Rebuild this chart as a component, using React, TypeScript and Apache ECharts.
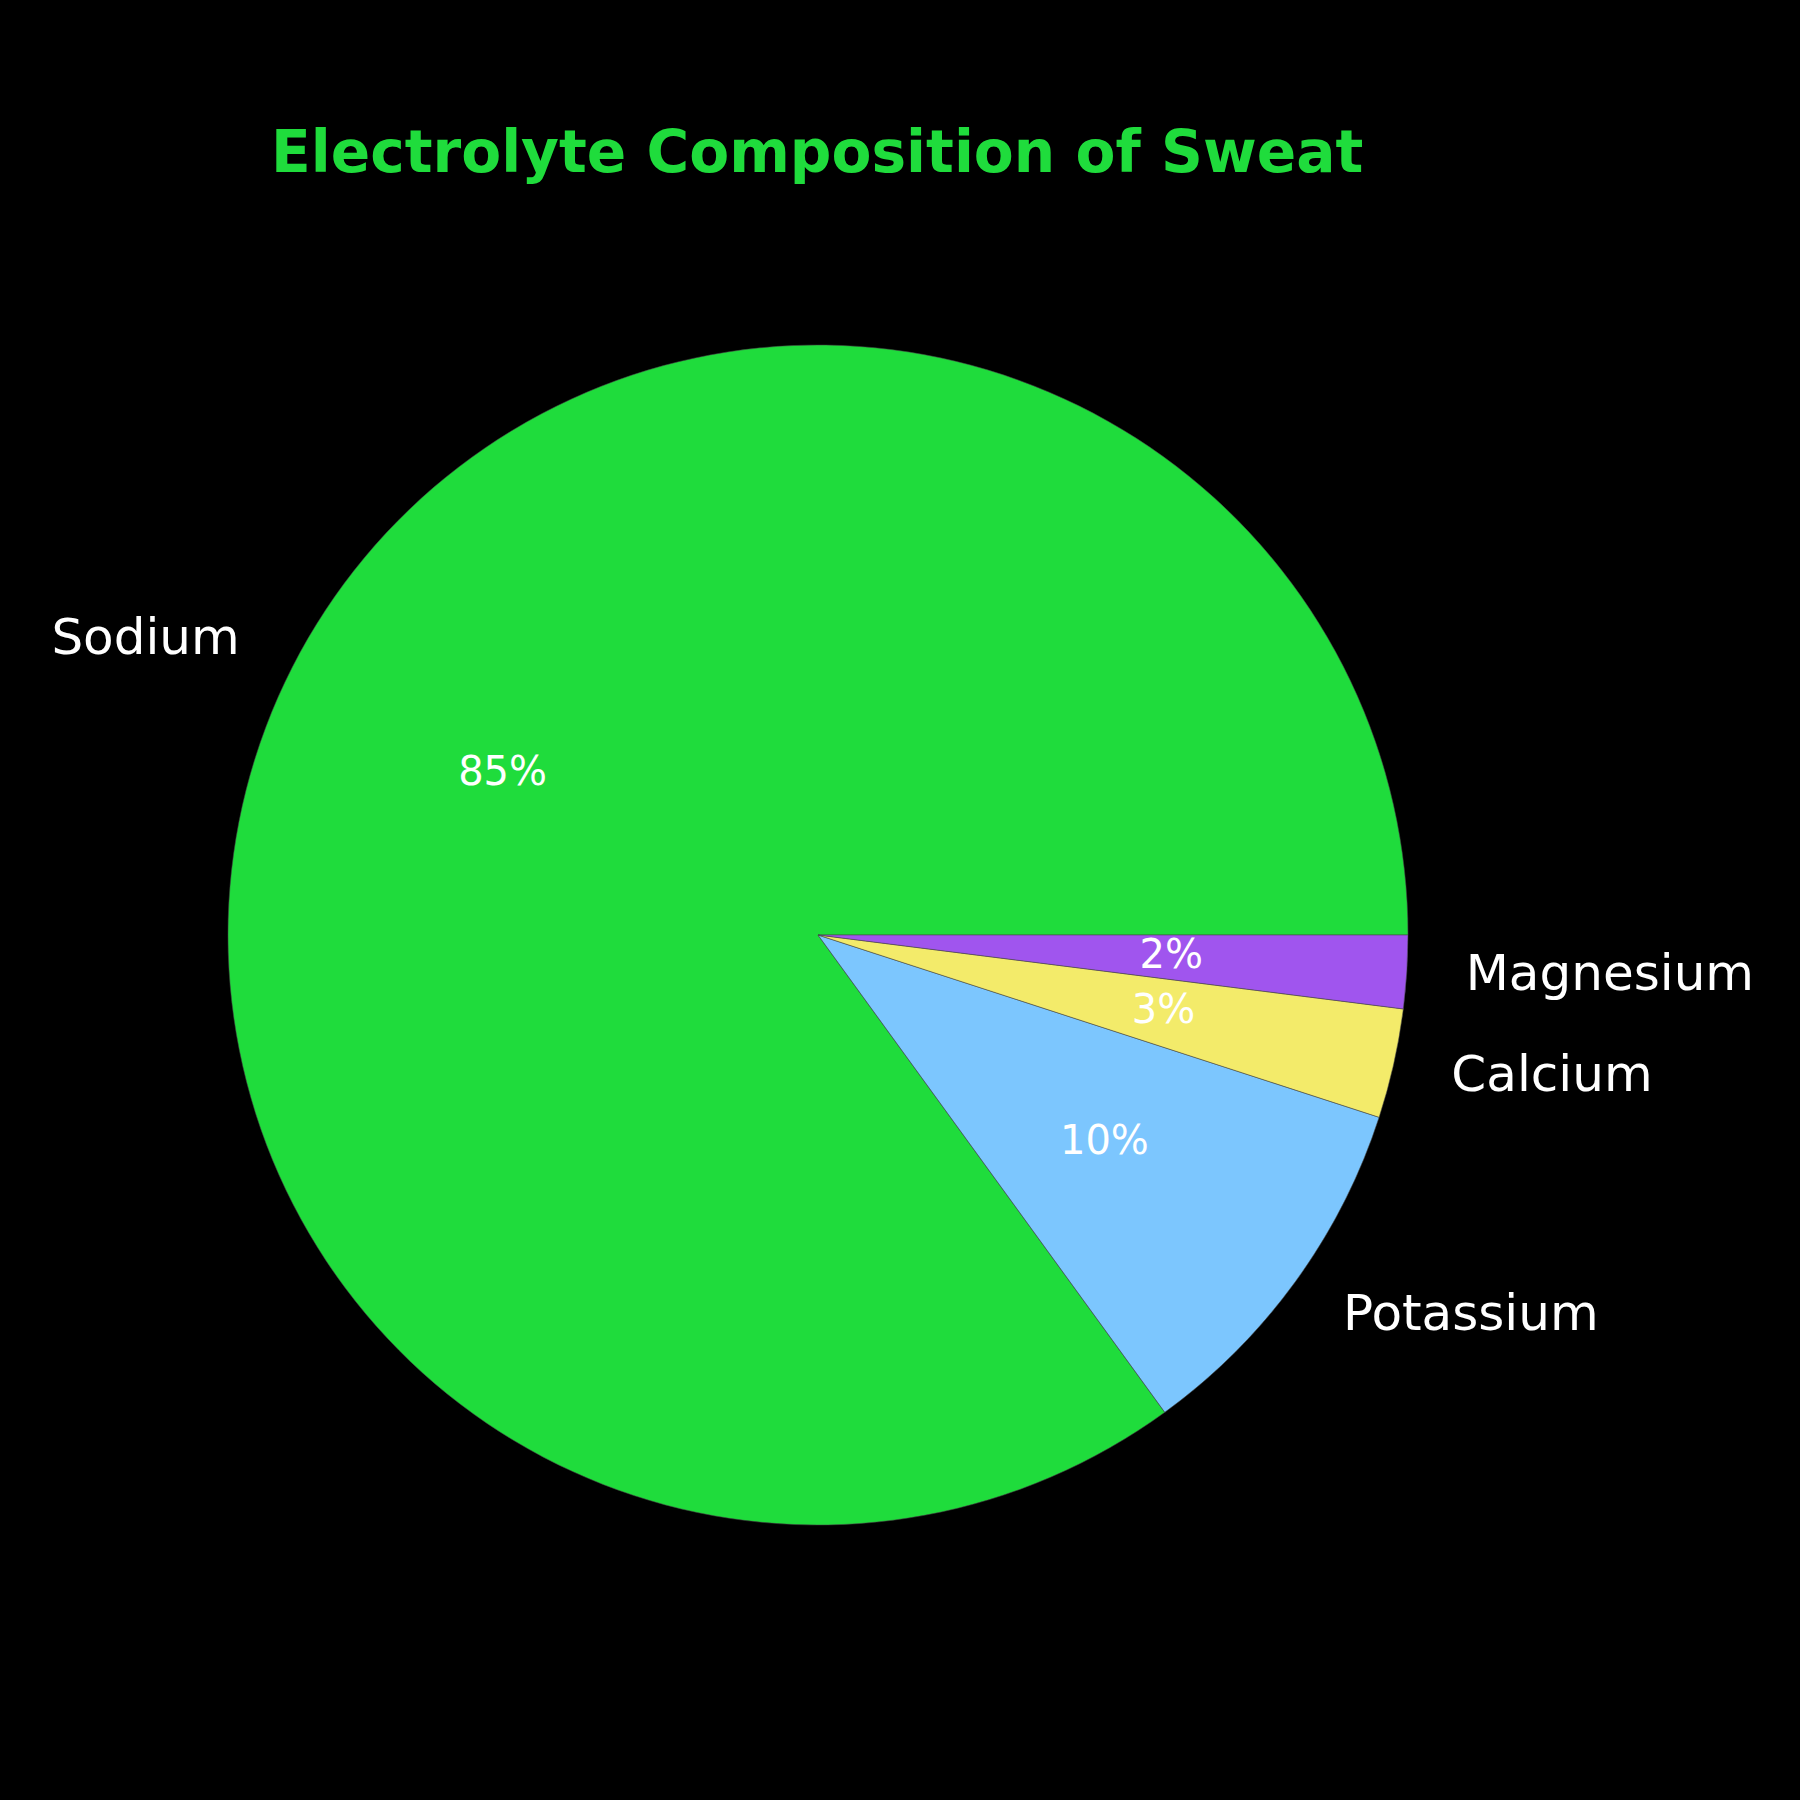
import React, { useEffect, useRef } from "react";
import * as echarts from "echarts";

const categories = ["Sodium", "Potassium", "Calcium", "Magnesium"];
const values = [85, 10, 3, 2];
const colors = ["#1FDC3C", "#7CC6FE", "#F3EB6A", "#A055EE"];
const titleText = "Electrolyte Composition of Sweat";

export default function App() {
  const ref = useRef<HTMLDivElement>(null);
  useEffect(() => {
    document.body.style.margin = "0";
    document.body.style.background = "#000";
    const chart = echarts.init(ref.current!, null, { renderer: "svg" });
    const R = 590;
    const center = [818, 935];
    const font = "DejaVu Sans";
    const data = categories.map((c, i) => ({
      name: c,
      value: values[i],
      itemStyle: { color: colors[i] },
    }));
    chart.setOption({
      animation: false,
      backgroundColor: "#000000",
      title: {
        text: titleText,
        left: 266,
        top: 116,
        textStyle: {
          color: "#1FDC3C",
          fontFamily: font,
          fontWeight: "bold",
          fontSize: 58.2,
          lineHeight: 62,
        },
      },
      series: [
        {
          type: "pie",
          center,
          radius: R,
          startAngle: 0,
          clockwise: false,
          avoidLabelOverlap: false,
          silent: true,
          data,
          itemStyle: { borderColor: "rgba(70,70,70,0.9)", borderWidth: 0.6 },
          label: {
            show: true,
            position: "outside",
            color: "#ffffff",
            fontFamily: font,
            fontSize: 50,
            distanceToLabelLine: 0,
            offset: [0, -3],
            formatter: "{b}",
          },
          labelLine: { show: false, length: R * 0.1, length2: 0 },
        },
        {
          type: "pie",
          center,
          radius: 702,
          startAngle: 0,
          clockwise: false,
          avoidLabelOverlap: false,
          silent: true,
          data: data.map((d) => ({ ...d, itemStyle: { color: "rgba(0,0,0,0)" } })),
          itemStyle: { borderWidth: 0 },
          label: {
            show: true,
            position: "inside",
            color: "#ffffff",
            fontFamily: font,
            fontSize: 40,
            offset: [0, -3],
            formatter: (p: any) => `${Math.round(p.value)}%`,
          },
          labelLine: { show: false },
        },
      ],
    });
    return () => chart.dispose();
  }, []);
  return <div ref={ref} style={{ width: 1800, height: 1800 }} />;
}
